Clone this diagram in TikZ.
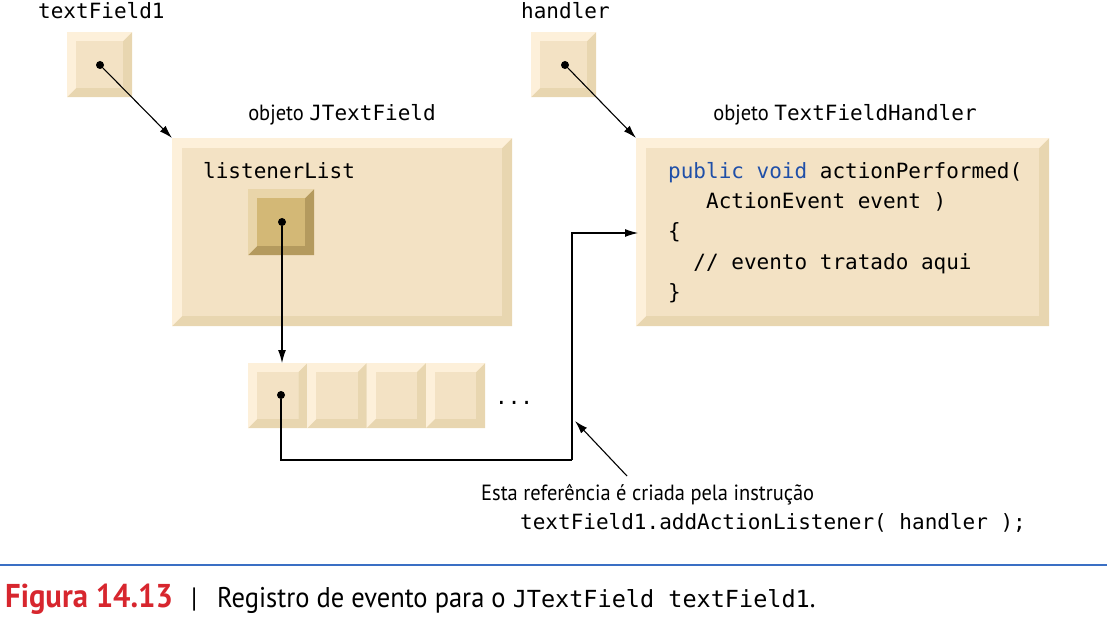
\documentclass[tikz,border=0pt]{standalone}
\usepackage{fontspec}
\setmainfont{PT Sans}[FakeStretch=0.93]
\setmonofont{DejaVu Sans Mono}
\usetikzlibrary{arrows.meta}
\definecolor{boxface}{HTML}{F3E2C4}
\definecolor{boxlight}{HTML}{FDF0DA}
\definecolor{boxdark}{HTML}{E8D6B0}
\definecolor{ptrface}{HTML}{D3B876}
\definecolor{ptrlight}{HTML}{E9D5A9}
\definecolor{ptrdark}{HTML}{B49A5E}
\definecolor{kwblue}{HTML}{1F4FA8}
\definecolor{rulecol}{HTML}{3A6FC4}
\definecolor{capred}{HTML}{D7262E}
\tikzset{
 bev/.style n args={4}{draw=none, inner sep=0pt, anchor=north west, path picture={
   \fill[#3] (path picture bounding box.south west) rectangle (path picture bounding box.north east);
   \fill[#4] (path picture bounding box.north east) -- (path picture bounding box.south east) -- (path picture bounding box.south west) -- ([shift={(#1,#1)}]path picture bounding box.south west) -- ([shift={(-#1,#1)}]path picture bounding box.south east) -- ([shift={(-#1,-#1)}]path picture bounding box.north east) -- cycle;
   \fill[#2] ([shift={(#1,#1)}]path picture bounding box.south west) rectangle ([shift={(-#1,-#1)}]path picture bounding box.north east);
 }},
 bigbox/.style={bev={10pt}{boxface}{boxlight}{boxdark}},
 cellbox/.style={bev={9pt}{boxface}{boxlight}{boxdark}, minimum width=59.25pt, minimum height=65pt},
 smallbox/.style={bev={9pt}{boxface}{boxlight}{boxdark}, minimum width=65pt, minimum height=65pt},
 ptrbox/.style={bev={9pt}{ptrface}{ptrlight}{ptrdark}, minimum width=66pt, minimum height=66pt},
 dot/.style={circle, fill=black, inner sep=0pt, minimum size=8pt},
 arr/.style={-{Latex[length=13pt,width=8pt]}, line width=1.1pt},
 lbl/.style={inner sep=0pt, font=\fontsize{22}{26}\selectfont},
 code/.style={inner sep=0pt, anchor=base west, font=\fontsize{21}{30}\selectfont\ttfamily},
}
\begin{document}
\begin{tikzpicture}[x=1pt,y=-1pt]
\useasboundingbox (0,0) rectangle (1107,617);
% names
\node[code] (n1) at (38,19) {textField1};
\node[code] (n2) at (521,19) {handler};
% small reference boxes
\node[smallbox] (tf1) at (67,32) {};
\node[smallbox] (hb) at (531,32) {};
\node[dot] (d1) at (100,65) {};
\node[dot] (d2) at (565,65) {};
% object labels
\node[lbl, anchor=base] (l1) at (342,121) {objeto {\fontsize{21}{24}\selectfont\ttfamily JTextField}};
\node[lbl, anchor=base] (l2) at (845,121) {objeto {\fontsize{21}{24}\selectfont\ttfamily TextFieldHandler}};
% big boxes
\node[bigbox, minimum width=340pt, minimum height=188pt] (jtf) at (172,138) {};
\node[bigbox, minimum width=413pt, minimum height=188pt] (tfh) at (636,138) {};
\node[code] (ll) at (203,179) {listenerList};
\node[ptrbox] (ptr) at (248,189) {};
\node[dot] (d3) at (282,222) {};
% code
\node[code] (c1) at (668,179) {\textcolor{kwblue}{public void} actionPerformed(};
\node[code] (c2) at (668,209) {\ \ \ ActionEvent event )};
\node[code] (c3) at (668,239) {\{};
\node[code] (c4) at (668,270) {\ \ // evento tratado aqui};
\node[code] (c5) at (668,300) {\}};
% list
\node[cellbox] (k1) at (248,363) {};
\node[cellbox] (k2) at (307.25,363) {};
\node[cellbox] (k3) at (366.5,363) {};
\node[cellbox] (k4) at (425.75,363) {};
\node[dot] (d4) at (281,395) {};
\node[code] (dots) at (495,404) {...};
% connectors
\draw[arr] (d1) -- (jtf.north west);
\draw[arr] (d2) -- (tfh.north west);
\draw[arr] (d3) -- (d3 |- k1.north);
\coordinate (bend) at (572,460);
\coordinate (tgt) at (638,233);
\draw[line width=1.1pt] (d4) |- (bend);
\draw[arr] (bend) |- (tgt);
% annotation
\node[lbl, anchor=base west] (ann) at (481,500) {Esta referência é criada pela instrução};
\node[code] (ann2) at (520,529) {textField1.addActionListener( handler );};
\coordinate (a0) at (627,476);
\coordinate (a1) at (575,421);
\draw[arr] (a0) -- (a1);
% caption
\coordinate (r0) at (0,565);
\coordinate (r1) at (1107,565);
\draw[rulecol, line width=2pt] (r0) -- (r1);
\node[inner sep=0pt, anchor=base west, font=\fontsize{33}{36}\selectfont\bfseries, text=capred] (fig) at (5,607) {Figura 14.13};
\node[inner sep=0pt, anchor=base west, font=\fontsize{28}{30}\selectfont] (bar) at (191,607) {|};
\node[inner sep=0pt, anchor=base west, font=\fontsize{28.5}{30}\selectfont] (capt) at (217,607) {Registro de evento para o {\fontsize{23.5}{30}\selectfont\ttfamily JTextField textField1}.};
\end{tikzpicture}
\end{document}
